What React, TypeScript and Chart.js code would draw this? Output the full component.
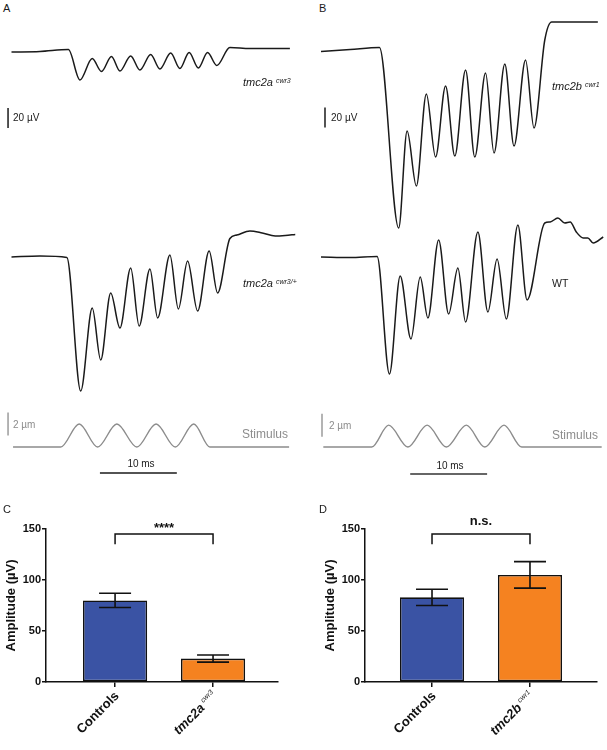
import React, { useEffect, useRef } from "react";
import Chart from "chart.js/auto";

const FONT = "'Liberation Sans', Arial, Helvetica, sans-serif";
const INK = "#1a1a1a";
const GREY = "#8c8c8c";
Chart.defaults.font.family = FONT;

// ---------- Panel A / B traces: time (ms) and response (µV) ----------
const tA1 = [0, 3.7, 7.4, 8.9, 10.5, 11.7, 13.0, 14.1, 15.5, 16.7, 18.1, 19.3, 20.7, 21.9, 23.1, 24.3, 25.5, 26.7, 28.4, 31.0, 36.2];
const vA1 = [0, 0.5, 2.5, -28, -6.5, -19.5, -4.5, -19, -4, -18, -2.5, -17, -1, -16.5, -0.5, -16, -0.5, -13.5, 4.5, 3.5, 3.5];

const tA2 = [0, 3.7, 7.2, 9.0, 10.5, 11.6, 12.9, 14.1, 15.5, 16.6, 18.0, 19.0, 20.6, 21.7, 22.9, 24.2, 25.7, 26.8, 28.4, 29.3, 31.0, 32.6, 34.3, 35.6, 36.9];
const vA2 = [0, 1, -0.5, -134, -51, -103, -36, -71, -11, -69, -12, -61, 2, -52, -4, -54, 6, -36, 18.5, 22, 26, 24, 21, 21.5, 22.5];

const tB1 = [0, 3.8, 7.6, 10.1, 11.2, 12.4, 13.7, 14.9, 16.2, 17.4, 18.8, 20.0, 21.4, 22.5, 23.9, 25.1, 26.6, 27.7, 29.1, 30.0, 36.0];
const vB1 = [0.5, 2.5, 4.5, -176, -79, -134, -42, -105, -34, -104, -18, -105, -21, -101, -12, -94, -8, -76, 12, 30, 30];

const tB2 = [0, 3.8, 7.3, 8.9, 10.3, 11.7, 12.9, 13.9, 15.3, 16.6, 17.8, 18.8, 20.4, 21.7, 22.9, 24.1, 25.6, 26.8, 29.1, 29.8, 30.8, 31.7, 32.4, 33.2, 34.1, 34.7, 35.4, 36.7];
const vB2 = [0, -0.5, 0.5, -117, -19, -82, -20, -61, 17, -57, -11, -65, 25, -55, -2, -62, 32, -43, 34, 35, 39, 34, 35, 25, 19, 19, 14, 20];

// Stimulus: time (ms) and displacement (µm)
const tSA = [0.2, 6.4, 8.8, 11.2, 13.7, 16.3, 18.8, 21.3, 23.7, 25.8, 36.1];
const vSA = [0, 0, 2, 0, 2, 0, 2, 0, 2, 0, 0];
const tSB = [0.3, 6.6, 8.8, 11.3, 13.8, 16.3, 18.9, 21.3, 23.8, 26.1, 36.5];
const vSB = [0, 0, 1.9, 0, 1.9, 0, 1.9, 0, 1.9, 0, 0];

// ---------- Panel C / D bars: amplitude (µV) ----------
const catsC = ["Controls", "tmc2a"];
const supsC = ["", "cwr3"];
const meanC = [80, 23];
const semC = [7, 3.5];
const sigC = "****";

const catsD = ["Controls", "tmc2b"];
const supsD = ["", "cwr1"];
const meanD = [83, 105];
const semD = [8, 13];
const sigD = "n.s.";

const barColors = ["#3A53A4", "#F58220"];
const yStep = 50;
const yMaxBar = 150;

const PX_PER_MS = 7.69;
const PX_PER_UV = 1;
const PX_PER_UM = 11.5;

type VBar = { t: number; v0: number; len: number; color: string; width: number };
type HBar = { v: number; t0: number; len: number; color: string; width: number };

function scaleBarsPlugin(vBar?: VBar, hBar?: HBar) {
  return {
    id: "scaleBars",
    afterDatasetsDraw(chart: any) {
      const { ctx } = chart;
      const xs = chart.scales.x;
      const ys = chart.scales.y;
      ctx.save();
      if (vBar) {
        const px = xs.getPixelForValue(vBar.t);
        ctx.strokeStyle = vBar.color;
        ctx.lineWidth = vBar.width;
        ctx.beginPath();
        ctx.moveTo(px, ys.getPixelForValue(vBar.v0));
        ctx.lineTo(px, ys.getPixelForValue(vBar.v0 + vBar.len));
        ctx.stroke();
      }
      if (hBar) {
        const py = ys.getPixelForValue(hBar.v);
        ctx.strokeStyle = hBar.color;
        ctx.lineWidth = hBar.width;
        ctx.beginPath();
        ctx.moveTo(xs.getPixelForValue(hBar.t0), py);
        ctx.lineTo(xs.getPixelForValue(hBar.t0 + hBar.len), py);
        ctx.stroke();
      }
      ctx.restore();
    },
  };
}

type TraceProps = {
  left: number; top: number; w: number; h: number;
  t: number[]; v: number[];
  t0Px: number; basePx: number; unitPx: number;
  color: string; lineWidth: number;
  vBar?: VBar; hBar?: HBar;
};

function TraceChart(p: TraceProps) {
  const ref = useRef<HTMLCanvasElement>(null);
  useEffect(() => {
    const chart = new Chart(ref.current as HTMLCanvasElement, {
      type: "line",
      data: {
        datasets: [
          {
            data: p.t.map((t, i) => ({ x: t, y: p.v[i] })),
            borderColor: p.color,
            borderWidth: p.lineWidth,
            pointRadius: 0,
            cubicInterpolationMode: "monotone",
            fill: false,
          },
        ],
      },
      options: {
        responsive: false,
        animation: false,
        events: [],
        layout: { padding: 0 },
        scales: {
          x: { type: "linear", display: false, min: -p.t0Px / PX_PER_MS, max: (p.w - p.t0Px) / PX_PER_MS },
          y: { type: "linear", display: false, min: (p.basePx - p.h) / p.unitPx, max: p.basePx / p.unitPx },
        },
        plugins: { legend: { display: false }, tooltip: { enabled: false } },
      } as any,
      plugins: [scaleBarsPlugin(p.vBar, p.hBar)],
    });
    return () => chart.destroy();
  }, []);
  return (
    <canvas
      ref={ref}
      width={p.w}
      height={p.h}
      style={{ position: "absolute", left: p.left, top: p.top, width: p.w, height: p.h }}
    />
  );
}

function barExtrasPlugin(cats: string[], sups: string[], means: number[], sems: number[], sig: string, sigGap: number) {
  return {
    id: "barExtras",
    afterDatasetsDraw(chart: any) {
      const { ctx } = chart;
      const xs = chart.scales.x;
      const ys = chart.scales.y;
      ctx.save();
      ctx.strokeStyle = "#111";
      ctx.fillStyle = "#111";
      ctx.lineWidth = 1.6;
      means.forEach((m, i) => {
        const px = xs.getPixelForValue(i);
        const yT = ys.getPixelForValue(m + sems[i]);
        const yB = ys.getPixelForValue(m - sems[i]);
        ctx.beginPath();
        ctx.moveTo(px, yT);
        ctx.lineTo(px, yB);
        ctx.moveTo(px - 16, yT);
        ctx.lineTo(px + 16, yT);
        ctx.moveTo(px - 16, yB);
        ctx.lineTo(px + 16, yB);
        ctx.stroke();
      });
      ctx.lineWidth = 1.5;
      const x0 = xs.getPixelForValue(0);
      const x1 = xs.getPixelForValue(cats.length - 1);
      const yb = ys.getPixelForValue(145);
      const yl = ys.getPixelForValue(135);
      ctx.beginPath();
      ctx.moveTo(x0, yl);
      ctx.lineTo(x0, yb);
      ctx.lineTo(x1, yb);
      ctx.lineTo(x1, yl);
      ctx.stroke();
      ctx.font = `bold 13px ${FONT}`;
      ctx.textAlign = "center";
      ctx.textBaseline = "alphabetic";
      ctx.fillText(sig, (x0 + x1) / 2, yb - sigGap);
      const axisY = ys.getPixelForValue(0);
      cats.forEach((c, i) => {
        const px = xs.getPixelForValue(i);
        ctx.save();
        ctx.translate(px + 2, axisY + 12);
        ctx.rotate(-Math.PI / 4);
        ctx.textAlign = "right";
        ctx.textBaseline = "middle";
        let off = 0;
        if (sups[i]) {
          ctx.font = `italic 7px ${FONT}`;
          const w = ctx.measureText(sups[i]).width;
          ctx.fillText(sups[i], 0, -4);
          off = w + 2.5;
        }
        ctx.font = `${sups[i] ? "italic " : ""}bold 13px ${FONT}`;
        ctx.fillText(c, -off, 0);
        ctx.restore();
      });
      ctx.restore();
    },
  };
}

type BarProps = {
  left: number; top: number; w: number; h: number;
  padLeft: number; padRight: number; xMin: number; xMax: number;
  cats: string[]; sups: string[]; means: number[]; sems: number[]; sig: string; sigGap: number;
};

function BarPanel(p: BarProps) {
  const ref = useRef<HTMLCanvasElement>(null);
  useEffect(() => {
    const axisGrid = {
      display: true,
      offset: false,
      drawOnChartArea: false,
      drawTicks: true,
      tickLength: 4,
      color: "#111",
      lineWidth: 1.5,
    };
    const chart = new Chart(ref.current as HTMLCanvasElement, {
      type: "bar",
      data: {
        datasets: [
          {
            data: p.means.map((m, i) => ({ x: i, y: m })),
            backgroundColor: barColors,
            borderColor: "#111",
            borderWidth: 1.6,
            borderSkipped: false,
            barPercentage: 0.655,
            categoryPercentage: 1,
          },
        ],
      },
      options: {
        responsive: false,
        animation: false,
        events: [],
        layout: { padding: { left: p.padLeft, right: p.padRight, top: 34, bottom: 0 } },
        scales: {
          x: {
            type: "linear",
            min: p.xMin,
            max: p.xMax,
            offset: false,
            afterBuildTicks: (s: any) => {
              s.ticks = p.cats.map((_, i) => ({ value: i }));
            },
            afterFit: (s: any) => {
              s.height = 68;
            },
            ticks: { display: false },
            grid: { ...axisGrid, tickLength: 5 },
            border: { display: true, color: "#111", width: 1.5 },
          },
          y: {
            type: "linear",
            min: 0,
            max: yMaxBar,
            ticks: { stepSize: yStep, color: "#111", padding: 1, font: { size: 11, weight: "bold", family: FONT } },
            afterFit: (s: any) => {
              s.width = 46;
            },
            grid: axisGrid,
            border: { display: true, color: "#111", width: 1.5 },
            title: {
              display: true,
              text: "Amplitude (µV)",
              color: "#111",
              font: { size: 13, weight: "bold", family: FONT },
              padding: { top: 4, bottom: 4 },
            },
          },
        },
        plugins: { legend: { display: false }, tooltip: { enabled: false } },
      } as any,
      plugins: [barExtrasPlugin(p.cats, p.sups, p.means, p.sems, p.sig, p.sigGap)],
    });
    return () => chart.destroy();
  }, []);
  return (
    <canvas
      ref={ref}
      width={p.w}
      height={p.h}
      style={{ position: "absolute", left: p.left, top: p.top, width: p.w, height: p.h }}
    />
  );
}

function Txt(props: {
  x: number; y: number; size: number; color?: string; italic?: boolean; bold?: boolean; center?: boolean;
  children: React.ReactNode;
}) {
  return (
    <div
      style={{
        position: "absolute",
        left: props.x,
        top: props.y,
        transform: props.center ? "translate(-50%,-50%)" : "translateY(-50%)",
        fontFamily: FONT,
        fontSize: props.size,
        lineHeight: 1,
        color: props.color || INK,
        fontStyle: props.italic ? "italic" : "normal",
        fontWeight: props.bold ? "bold" : "normal",
        whiteSpace: "nowrap",
      }}
    >
      {props.children}
    </div>
  );
}

function Sup({ children }: { children: React.ReactNode }) {
  return <span style={{ fontSize: 7, position: "relative", top: -3, marginLeft: 3 }}>{children}</span>;
}

export default function App() {
  return (
    <div style={{ position: "absolute", left: 0, top: 0, width: 607, height: 750, background: "#fff", overflow: "hidden" }}>
      {/* Panel A */}
      <TraceChart left={0} top={20} w={300} h={120} t={tA1} v={vA1} t0Px={11.5} basePx={32} unitPx={PX_PER_UV}
        color={INK} lineWidth={1.5} vBar={{ t: -0.45, v0: -76, len: 20, color: INK, width: 1.5 }} />
      <TraceChart left={0} top={200} w={300} h={210} t={tA2} v={vA2} t0Px={11.5} basePx={57} unitPx={PX_PER_UV}
        color={INK} lineWidth={1.5} />
      <TraceChart left={0} top={400} w={300} h={85} t={tSA} v={vSA} t0Px={11.5} basePx={47} unitPx={PX_PER_UM}
        color={GREY} lineWidth={1.4}
        vBar={{ t: -0.45, v0: 1.0, len: 2, color: GREY, width: 1.3 }}
        hBar={{ v: -2.26, t0: 11.5, len: 10, color: INK, width: 1.5 }} />

      {/* Panel B */}
      <TraceChart left={300} top={15} w={307} h={225} t={tB1} v={vB1} t0Px={21} basePx={37} unitPx={PX_PER_UV}
        color={INK} lineWidth={1.5} vBar={{ t: 0.52, v0: -75.5, len: 20, color: INK, width: 1.5 }} />
      <TraceChart left={300} top={200} w={307} h={210} t={tB2} v={vB2} t0Px={21} basePx={57} unitPx={PX_PER_UV}
        color={INK} lineWidth={1.5} />
      <TraceChart left={300} top={400} w={307} h={85} t={tSB} v={vSB} t0Px={21} basePx={47} unitPx={PX_PER_UM}
        color={GREY} lineWidth={1.4}
        vBar={{ t: 0.13, v0: 0.9, len: 2, color: GREY, width: 1.3 }}
        hBar={{ v: -2.35, t0: 11.6, len: 10, color: "#333", width: 1.5 }} />

      {/* Panels C and D */}
      <BarPanel left={0} top={495} w={300} h={255} padLeft={0} padRight={22} xMin={-0.705} xMax={1.663}
        cats={catsC} sups={supsC} means={meanC} sems={semC} sig={sigC} sigGap={2} />
      <BarPanel left={300} top={495} w={307} h={255} padLeft={19} padRight={10} xMin={-0.684} xMax={1.684}
        cats={catsD} sups={supsD} means={meanD} sems={semD} sig={sigD} sigGap={9} />

      {/* Text */}
      <Txt x={3} y={8} size={11}>A</Txt>
      <Txt x={319} y={8} size={11}>B</Txt>
      <Txt x={3} y={508.5} size={11}>C</Txt>
      <Txt x={319} y={508.5} size={11}>D</Txt>

      <Txt x={243} y={82} size={11} italic>tmc2a<Sup>cwr3</Sup></Txt>
      <Txt x={13} y={117.5} size={10}>20 µV</Txt>
      <Txt x={243} y={283} size={11} italic>tmc2a<Sup>cwr3/+</Sup></Txt>
      <Txt x={13} y={424.5} size={10} color={GREY}>2 µm</Txt>
      <Txt x={242} y={434} size={12} color={GREY}>Stimulus</Txt>
      <Txt x={141} y={464} size={10} center>10 ms</Txt>

      <Txt x={552} y={86} size={11} italic>tmc2b<Sup>cwr1</Sup></Txt>
      <Txt x={331} y={117.5} size={10}>20 µV</Txt>
      <Txt x={552} y={283} size={10.5}>WT</Txt>
      <Txt x={329} y={426} size={10} color={GREY}>2 µm</Txt>
      <Txt x={552} y={435} size={12} color={GREY}>Stimulus</Txt>
      <Txt x={450} y={466} size={10} center>10 ms</Txt>
    </div>
  );
}
